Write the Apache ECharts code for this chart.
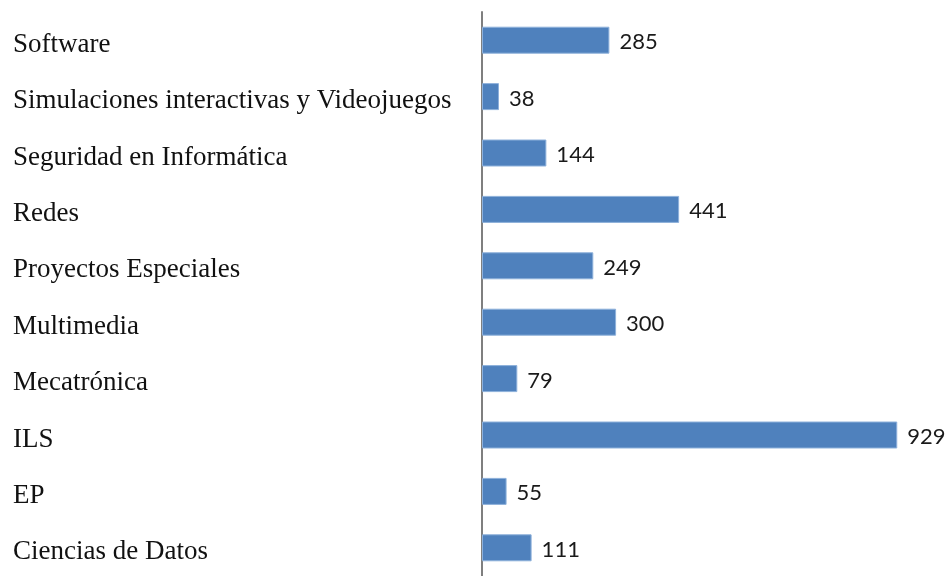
<!DOCTYPE html>
<html>
<head>
    <meta charset="UTF-8">
    <title>Bar chart</title>
    <script src="https://cdn.jsdelivr.net/npm/echarts/dist/echarts.min.js"></script>
</head>
<body style="margin:0">
    <div id="chart" style="width: 950px;height:576px;"></div>
    <script type="text/javascript">
        var chart = echarts.init(document.getElementById('chart'));

        // categories, top to bottom
        var areas = ['Software', 'Simulaciones interactivas y Videojuegos', 'Seguridad en Informática', 'Redes',
            'Proyectos Especiales', 'Multimedia', 'Mecatrónica', 'ILS', 'EP', 'Ciencias de Datos'];
        var counts = [285, 38, 144, 441, 249, 300, 79, 929, 55, 111];

        var option = {
            animation: false,
            grid: { left: 482, top: 12, width: 447, height: 566 },
            xAxis: {
                type: 'value',
                min: 0,
                max: 1000,
                show: false
            },
            yAxis: {
                type: 'category',
                data: areas,
                inverse: true,
                axisLine: { lineStyle: { color: '#7f7f7f', width: 2 } },
                axisTick: { show: false },
                axisLabel: {
                    align: 'left',
                    margin: 469,
                    formatter: function (v) { return '{t|' + v + '}'; },
                    rich: {
                        t: {
                            color: '#111',
                            fontFamily: 'Liberation Serif',
                            fontSize: 27,
                            padding: [9, 0, 0, 0]
                        }
                    }
                }
            },
            series: [{
                type: 'bar',
                data: counts,
                barWidth: 27,
                itemStyle: { color: '#4f81bd', borderColor: '#8eb1db', borderWidth: 1 },
                label: {
                    show: true,
                    position: 'right',
                    distance: 10,
                    offset: [0, 2],
                    color: '#1a1a1a',
                    fontFamily: 'Lato',
                    fontSize: 22
                }
            }]
        };

        chart.setOption(option);
    </script>
</body>
</html>
